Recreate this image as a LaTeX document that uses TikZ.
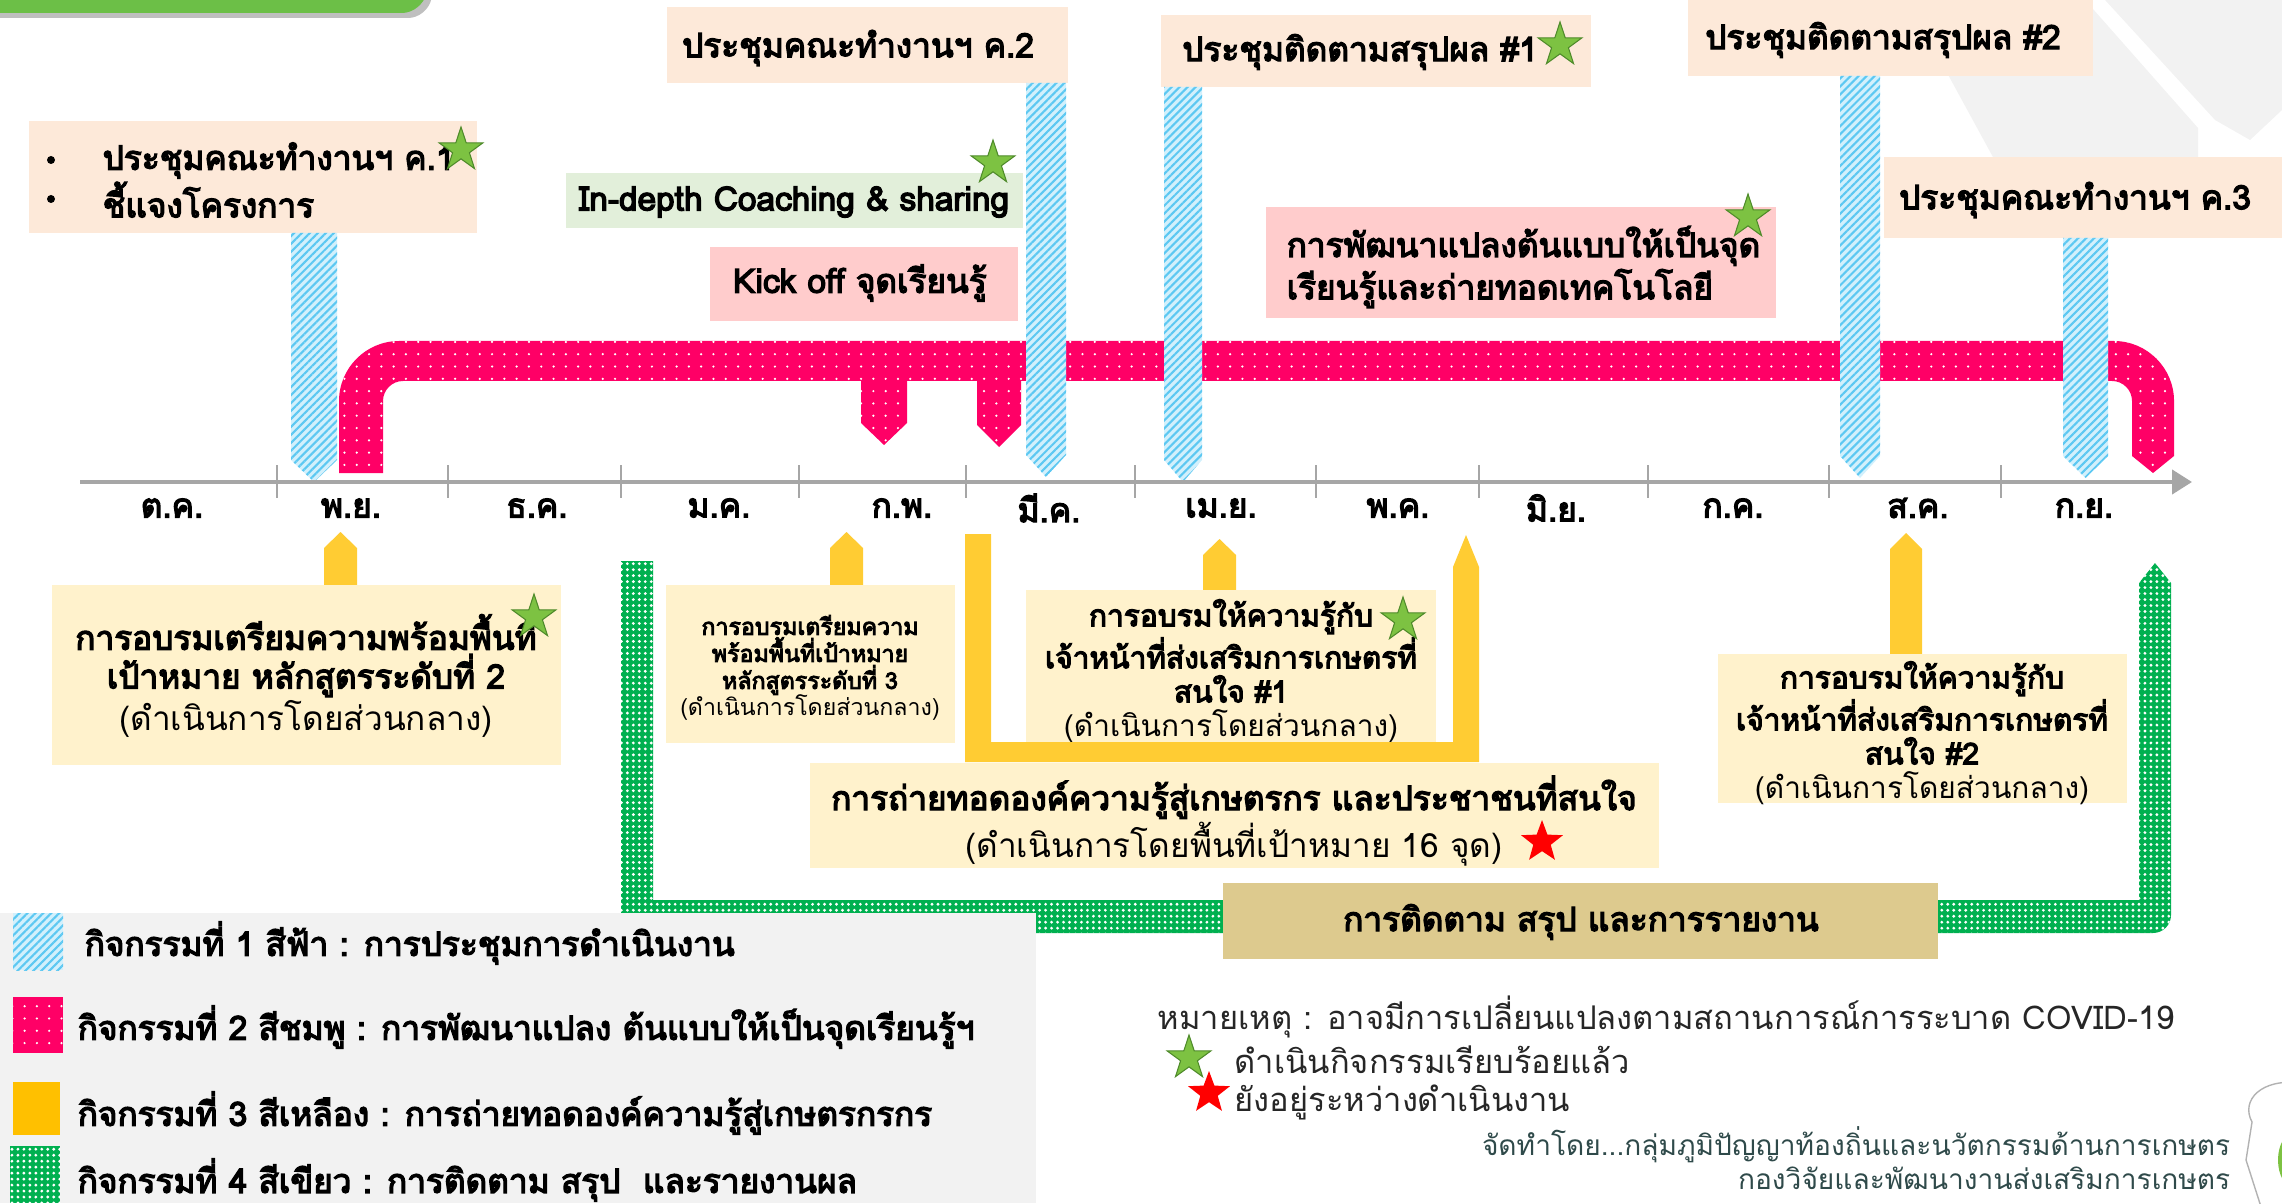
\documentclass[tikz,border=0pt]{standalone}
\usepackage{fontspec}
\setmainfont[Script=Thai]{Loma}
\newfontfamily\heavy[Script=Thai, FakeBold=4]{Loma}
\usepackage{tikz}
\usetikzlibrary{arrows.meta,patterns.meta,shapes.geometric}

\definecolor{peach}{HTML}{FDE9D9}
\definecolor{mint}{HTML}{E2EFDA}
\definecolor{rose}{HTML}{FFCCCC}
\definecolor{hotpink}{HTML}{FF0066}
\definecolor{cream}{HTML}{FFF2CC}
\definecolor{gold}{HTML}{FFCC33}
\definecolor{amber}{HTML}{FFC000}
\definecolor{skyfill}{HTML}{D2F0FC}
\definecolor{skyline}{HTML}{5CC8F2}
\definecolor{leaf}{HTML}{00B050}
\definecolor{tan}{HTML}{DDCA8E}
\definecolor{starg}{HTML}{7DC242}
\definecolor{stargd}{HTML}{4E8A2A}
\definecolor{axisgray}{HTML}{A6A6A6}
\definecolor{panel}{HTML}{F2F2F2}
\definecolor{titlegreen}{HTML}{6CBF47}
\definecolor{credit}{HTML}{2F4A4A}

\begin{document}
\begin{tikzpicture}[x=0.1mm,y=-0.1mm,
    lbl/.style={font=\heavy\fontsize{9.5}{11}\selectfont, inner sep=0pt},
    small/.style={font=\heavy\fontsize{8.5}{9.7}\selectfont, inner sep=0pt, align=center},
    tiny/.style={font=\heavy\fontsize{6.6}{7.7}\selectfont, inner sep=0pt, align=center},
    note/.style={font=\fontsize{9.3}{11}\selectfont, inner sep=0pt, text=black!85},
    credit/.style={font=\fontsize{8}{9.5}\selectfont, inner sep=0pt, text=credit},
    gstar/.style={star, star points=5, star point ratio=2.6, fill=starg, draw=stargd,
        line width=0.3pt, inner sep=0pt, minimum size=4.6mm},
    rstar/.style={star, star points=5, star point ratio=2.4, fill=red, inner sep=0pt,
        minimum size=4.4mm},
    skybar/.style={fill=skyfill, postaction={pattern={Lines[angle=45,distance=1.6pt,line width=0.6pt]}, pattern color=skyline}},
    pinkband/.style={fill=hotpink, postaction={pattern={Dots[radius=0.35pt,distance=3.5pt]}, pattern color=white}},
    leafband/.style={fill=leaf, postaction={pattern={Dots[radius=0.45pt,distance=1.7pt]}, pattern color=white}}]

    \useasboundingbox (0,0) rectangle (2282,1203);
    \clip (0,0) rectangle (2282,1203);

    % Background shapes
    \fill[panel] (1940,60) -- (2085,0) -- (2198,128) -- (2198,170) -- (2000,170) -- cycle;
    \fill[panel] (2105,0) -- (2282,0) -- (2282,110) -- (2250,140) -- (2215,120) -- cycle;
    \fill[black!25] (-50,-50) [rounded corners=2mm] -- (-50,18) -- (428,18) -- (440,-50) -- cycle;
    \fill[titlegreen] (-50,-50) [rounded corners=2mm] -- (-50,13) -- (422,13) -- (436,-50) -- cycle;

    % Meeting boxes (top)
    \fill[peach] (29,121) rectangle (477,233);
    \fill (51,160) circle (4);
    \fill (51,199) circle (4);
    \node[lbl, anchor=west, align=left] (k1) at (102,180) {ประชุมคณะทำงานฯ ค.1\\ชี้แจงโครงการ};
    \fill[peach] (667,7) rectangle (1068,83);
    \node[lbl] (k2) at (858,48) {ประชุมคณะทำงานฯ ค.2};
    \fill[peach] (1161,15) rectangle (1591,87);
    \node[lbl] (f1) at (1360,52) {ประชุมติดตามสรุปผล \#1};
    \fill[peach] (1688,0) rectangle (2093,76);
    \node[lbl] (f2) at (1883,40) {ประชุมติดตามสรุปผล \#2};
    \fill[peach] (1884,157) rectangle (2282,238);
    \node[lbl] (k3) at (2075,200) {ประชุมคณะทำงานฯ ค.3};

    % Activity 2 boxes
    \fill[mint] (566,173) rectangle (1023,228);
    \node[lbl] (coach) at (794,202) {In-depth Coaching \& sharing};
    \fill[rose] (710,247) rectangle (1018,321);
    \node[lbl] (kick) at (860,283) {Kick off จุดเรียนรู้};
    \fill[rose] (1266,207) rectangle (1776,318);
    \node[lbl, anchor=west, align=left] (plot) at (1286,267) {การพัฒนาแปลงต้นแบบให้เป็นจุด\\เรียนรู้และถ่ายทอดเทคโนโลยี};

    % Pink band
    \path[pinkband] (339,473) -- (339,401) .. controls (339,368) and (366,341) .. (399,341)
        -- (2114,341) .. controls (2147,341) and (2174,368) .. (2174,401) -- (2174,456)
        -- (2153,473) -- (2132,456) -- (2132,401) .. controls (2132,390) and (2123,381) .. (2112,381)
        -- (403,381) .. controls (392,381) and (383,390) .. (383,401) -- (383,473) -- cycle;
    \path[pinkband] (861,381) -- (907,381) -- (907,423) -- (884,445) -- (861,423) -- cycle;
    \path[pinkband] (977,381) -- (1021,381) -- (1021,425) -- (999,447) -- (977,425) -- cycle;

    % Blue bars
    \foreach \xl/\xr/\yt/\yb in {291/337/233/482, 1026/1066/83/477, 1164/1202/87/482,
        1840/1880/76/478, 2063/2108/238/478}
        \path[skybar] (\xl,\yt) -- (\xr,\yt) -- (\xr,\yb-22) -- ({(\xl+\xr)/2},\yb) -- (\xl,\yb-22) -- cycle;

    % Stars (top)
    \node[gstar] (s1) at (461,150) {};
    \node[gstar] (s2) at (993,163) {};
    \node[gstar] (s3) at (1560,45) {};
    \node[gstar] (s4) at (1748,217) {};

    % Time axis
    \coordinate (ax0) at (80,482);
    \coordinate (ax1) at (2192,482);
    \draw[axisgray, line width=1.2pt, -{Triangle[length=2mm,width=2.4mm]}] (ax0) -- (ax1);
    \foreach \tx in {277,448,621,799,966,1135,1316,1479,1648,1829,2001}
        \draw[axisgray, line width=0.8pt] (\tx,465) -- (\tx,498);
    \foreach \mx/\mn in {172/ต.ค., 351/พ.ย., 537/ธ.ค., 719/ม.ค., 902/ก.พ., 1049/มี.ค.,
        1221/เม.ย., 1398/พ.ค., 1556/มิ.ย., 1733/ก.ค., 1918/ส.ค., 2084/ก.ย.}
        \node[lbl] (m-\mx) at (\mx,508) {\mn};

    % Activity 4 (green)
    \path[leafband] (621,561) -- (653,561) -- (653,900) -- (2139,900) -- (2139,583) -- (2155,563)
        -- (2171,583) -- (2171,915) .. controls (2171,925) and (2163,933) .. (2153,933) -- (621,933) -- cycle;

    % Activity 3 (yellow)
    \foreach \xl/\xr/\yt/\yb in {324/357/532/585, 830/863/532/585, 1203/1236/539/590, 1890/1922/533/655}
        \fill[gold] (\xl,\yb) -- (\xl,\yt+16) -- ({(\xl+\xr)/2},\yt) -- (\xr,\yt+16) -- (\xr,\yb) -- cycle;
    \fill[cream] (52,585) rectangle (561,765);
    \node[lbl, align=center] (t2) at (306,676) {การอบรมเตรียมความพร้อมพื้นที่\\เป้าหมาย หลักสูตรระดับที่ 2\\\normalfont\fontsize{9.5}{11}\selectfont(ดำเนินการโดยส่วนกลาง)};
    \node[gstar] (s5) at (534,617) {};
    \fill[cream] (666,585) rectangle (955,743);
    \node[tiny] (t3) at (810,668) {การอบรมเตรียมความ\\พร้อมพื้นที่เป้าหมาย\\หลักสูตรระดับที่ 3\\\normalfont\fontsize{6.6}{7.7}\selectfont(ดำเนินการโดยส่วนกลาง)};
    \fill[cream] (1026,590) rectangle (1436,743);
    \node[small] (o1) at (1231,671) {การอบรมให้ความรู้กับ\\เจ้าหน้าที่ส่งเสริมการเกษตรที่\\สนใจ \#1\\\normalfont\fontsize{8.5}{9.7}\selectfont(ดำเนินการโดยส่วนกลาง)};
    \node[gstar] (s6) at (1403,620) {};
    \fill[gold] (965,534) -- (991,534) -- (991,742) -- (1453,742) -- (1453,567) -- (1466,535)
        -- (1479,567) -- (1479,762) -- (965,762) -- cycle;
    \fill[cream] (810,763) rectangle (1659,868);
    \node[lbl, align=center] (farm) at (1234,821) {การถ่ายทอดองค์ความรู้สู่เกษตรกร และประชาชนที่สนใจ\\\normalfont\fontsize{9.5}{11}\selectfont(ดำเนินการโดยพื้นที่เป้าหมาย 16 จุด)};
    \node[rstar] (r1) at (1542,842) {};
    \fill[cream] (1718,654) rectangle (2127,803);
    \node[small] (o2) at (1922,733) {การอบรมให้ความรู้กับ\\เจ้าหน้าที่ส่งเสริมการเกษตรที่\\สนใจ \#2\\\normalfont\fontsize{8.5}{9.7}\selectfont(ดำเนินการโดยส่วนกลาง)};

    % Follow-up box
    \fill[tan] (1223,883) rectangle (1938,959);
    \node[lbl] (fu) at (1581,922) {การติดตาม สรุป และการรายงาน};

    % Legend
    \fill[panel] (0,913) rectangle (1036,1203);
    \path[skybar] (13,913) rectangle (63,970);
    \path[pinkband] (13,997) rectangle (63,1053);
    \fill[amber] (13,1082) rectangle (60,1135);
    \path[leafband] (10,1146) rectangle (60,1203);
    \node[lbl, anchor=west] (l1) at (84,943) {กิจกรรมที่ 1 สีฟ้า : การประชุมการดำเนินงาน};
    \node[lbl, anchor=west] (l2) at (77,1027) {กิจกรรมที่ 2 สีชมพู : การพัฒนาแปลง ต้นแบบให้เป็นจุดเรียนรู้ฯ};
    \node[lbl, anchor=west] (l3) at (77,1113) {กิจกรรมที่ 3 สีเหลือง : การถ่ายทอดองค์ความรู้สู่เกษตรกรกร};
    \node[lbl, anchor=west] (l4) at (77,1180) {กิจกรรมที่ 4 สีเขียว : การติดตาม สรุป \ และรายงานผล};

    % Notes
    \node[note, anchor=west] (n0) at (1157,1017) {หมายเหตุ : อาจมีการเปลี่ยนแปลงตามสถานการณ์การระบาด COVID-19};
    \node[gstar] (ng) at (1189,1058) {};
    \node[note, anchor=west] (n1) at (1234,1060) {ดำเนินกิจกรรมเรียบร้อยแล้ว};
    \node[rstar] (nr) at (1209,1093) {};
    \node[note, anchor=west] (n2) at (1234,1102) {ยังอยู่ระหว่างดำเนินงาน};
    \node[credit, anchor=east] (c1) at (2231,1145) {จัดทำโดย...กลุ่มภูมิปัญญาท้องถิ่นและนวัตกรรมด้านการเกษตร};
    \node[credit, anchor=east] (c2) at (2231,1178) {กองวิจัยและพัฒนางานส่งเสริมการเกษตร};

    % Logo (cut off)
    \draw[black!30, line width=0.4pt] (2300,1083) .. controls (2262,1078) and (2240,1100) .. (2252,1122)
        -- (2246,1160) -- (2262,1210);
    \fill[starg] (2292,1160) ellipse (14 and 26);
\end{tikzpicture}
\end{document}
